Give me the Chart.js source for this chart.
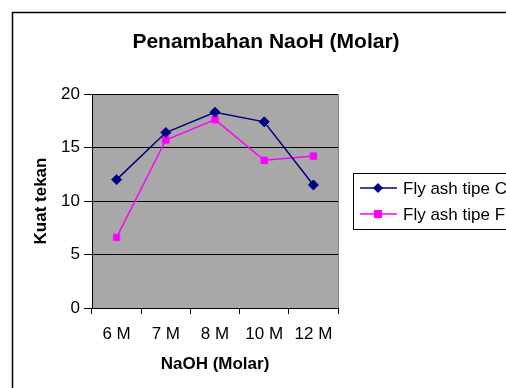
<!DOCTYPE html>
<html>
<head>
<meta charset="utf-8">
<script src="https://cdn.jsdelivr.net/npm/chart.js@4.4.0/dist/chart.umd.min.js"></script>
<style>
	html, body { margin: 0; padding: 0; background: #fff; }
	#wrap { width: 506px; height: 388px; }
</style>
</head>
<body>
<div id="wrap"><canvas id="chart" width="506" height="388"></canvas></div>
<script>
const chartTitle = 'Penambahan NaoH (Molar)';
const categories = ['6 M', '7 M', '8 M', '10 M', '12 M'];
const seriesNames = ['Fly ash tipe C', 'Fly ash tipe F'];
const tipeC = [12.0, 16.4, 18.3, 17.4, 11.5];
const tipeF = [6.6, 15.7, 17.6, 13.8, 14.2];
const yTicks = [0, 5, 10, 15, 20];

const FONT = 'Arial, "Liberation Sans", sans-serif';

// frame, plot background, title and legend
const decor = {
	id: 'decor',
	beforeDraw(chart) {
		const { ctx, chartArea: a } = chart;
		ctx.save();
		ctx.fillStyle = '#fff';
		ctx.fillRect(0, 0, chart.width, chart.height);
		ctx.fillStyle = '#a8a8a8';
		ctx.fillRect(a.left, a.top, a.right - a.left, a.bottom - a.top);
		ctx.strokeStyle = '#000';
		ctx.lineWidth = 1.5;
		ctx.beginPath();
		ctx.moveTo(12.5, chart.height);
		ctx.lineTo(12.5, 12.5);
		ctx.lineTo(chart.width, 12.5);
		ctx.stroke();
		ctx.restore();
	},
	afterDraw(chart) {
		const { ctx, chartArea: a } = chart;
		ctx.save();
		ctx.strokeStyle = '#808080';
		ctx.lineWidth = 1;
		ctx.beginPath();
		ctx.moveTo(a.right + 0.5, a.top);
		ctx.lineTo(a.right + 0.5, a.bottom);
		ctx.stroke();

		ctx.fillStyle = '#000';
		ctx.font = 'bold 21px ' + FONT;
		ctx.textAlign = 'center';
		ctx.textBaseline = 'middle';
		ctx.fillText(chartTitle, 266, 42);

		// legend box
		ctx.strokeStyle = '#000';
		ctx.lineWidth = 1;
		ctx.strokeRect(353.5, 173.5, 200, 56);
		ctx.font = '17px ' + FONT;
		ctx.textAlign = 'left';
		chart.data.datasets.forEach((ds, i) => {
			const y = 188 + i * 26;
			ctx.strokeStyle = ds.borderColor;
			ctx.lineWidth = 1.5;
			ctx.beginPath();
			ctx.moveTo(360, y);
			ctx.lineTo(397, y);
			ctx.stroke();
			ctx.fillStyle = ds.backgroundColor;
			if (ds.pointStyle === 'rect') {
				ctx.fillRect(374, y - 4, 8, 8);
			} else {
				ctx.beginPath();
				ctx.moveTo(378, y - 5);
				ctx.lineTo(383, y);
				ctx.lineTo(378, y + 5);
				ctx.lineTo(373, y);
				ctx.closePath();
				ctx.fill();
			}
			ctx.fillStyle = '#000';
			ctx.fillText(ds.label, 403, y + 1);
		});
		ctx.restore();
	}
};

new Chart(document.getElementById('chart'), {
	type: 'line',
	data: {
		labels: categories,
		datasets: [
			{
				label: seriesNames[0],
				data: tipeC,
				borderColor: '#000080',
				backgroundColor: '#000080',
				borderWidth: 1.5,
				pointStyle: 'rectRot',
				pointRadius: 5,
				pointBorderWidth: 1,
				tension: 0
			},
			{
				label: seriesNames[1],
				data: tipeF,
				borderColor: '#ff00ff',
				backgroundColor: '#ff00ff',
				borderWidth: 1.5,
				pointStyle: 'rect',
				pointRadius: 4.5,
				pointBorderWidth: 1,
				tension: 0
			}
		]
	},
	options: {
		responsive: false,
		animation: false,
		layout: { padding: { left: 27, top: 94, right: 168, bottom: 12 } },
		plugins: {
			legend: { display: false },
			title: { display: false },
			tooltip: { enabled: false }
		},
		scales: {
			x: {
				offset: true,
				afterFit(scale) { scale.height = 68; },
				grid: {
					offset: true,
					drawOnChartArea: false,
					color: '#000',
					tickLength: 6,
					tickColor: '#000'
				},
				border: { color: '#000', width: 1 },
				ticks: {
					color: '#000',
					padding: 10,
					maxRotation: 0,
					font: { family: FONT, size: 17 }
				},
				title: {
					display: true,
					text: 'NaOH (Molar)',
					color: '#000',
					padding: { top: 0, bottom: 1 },
					font: { family: FONT, size: 17, weight: 'bold' }
				}
			},
			y: {
				min: 0,
				max: 20,
				afterFit(scale) { scale.width = 65; },
				afterBuildTicks(scale) { scale.ticks = yTicks.map(v => ({ value: v })); },
				grid: {
					color: '#000',
					lineWidth: 1,
					tickLength: 8,
					tickColor: '#000'
				},
				border: { color: '#000', width: 1 },
				ticks: {
					color: '#000',
					padding: 4,
					font: { family: FONT, size: 17 }
				},
				title: {
					display: true,
					text: 'Kuat tekan',
					color: '#000',
					padding: { top: 4, bottom: 0 },
					font: { family: FONT, size: 17, weight: 'bold' }
				}
			}
		}
	},
	plugins: [decor]
});
</script>
</body>
</html>
